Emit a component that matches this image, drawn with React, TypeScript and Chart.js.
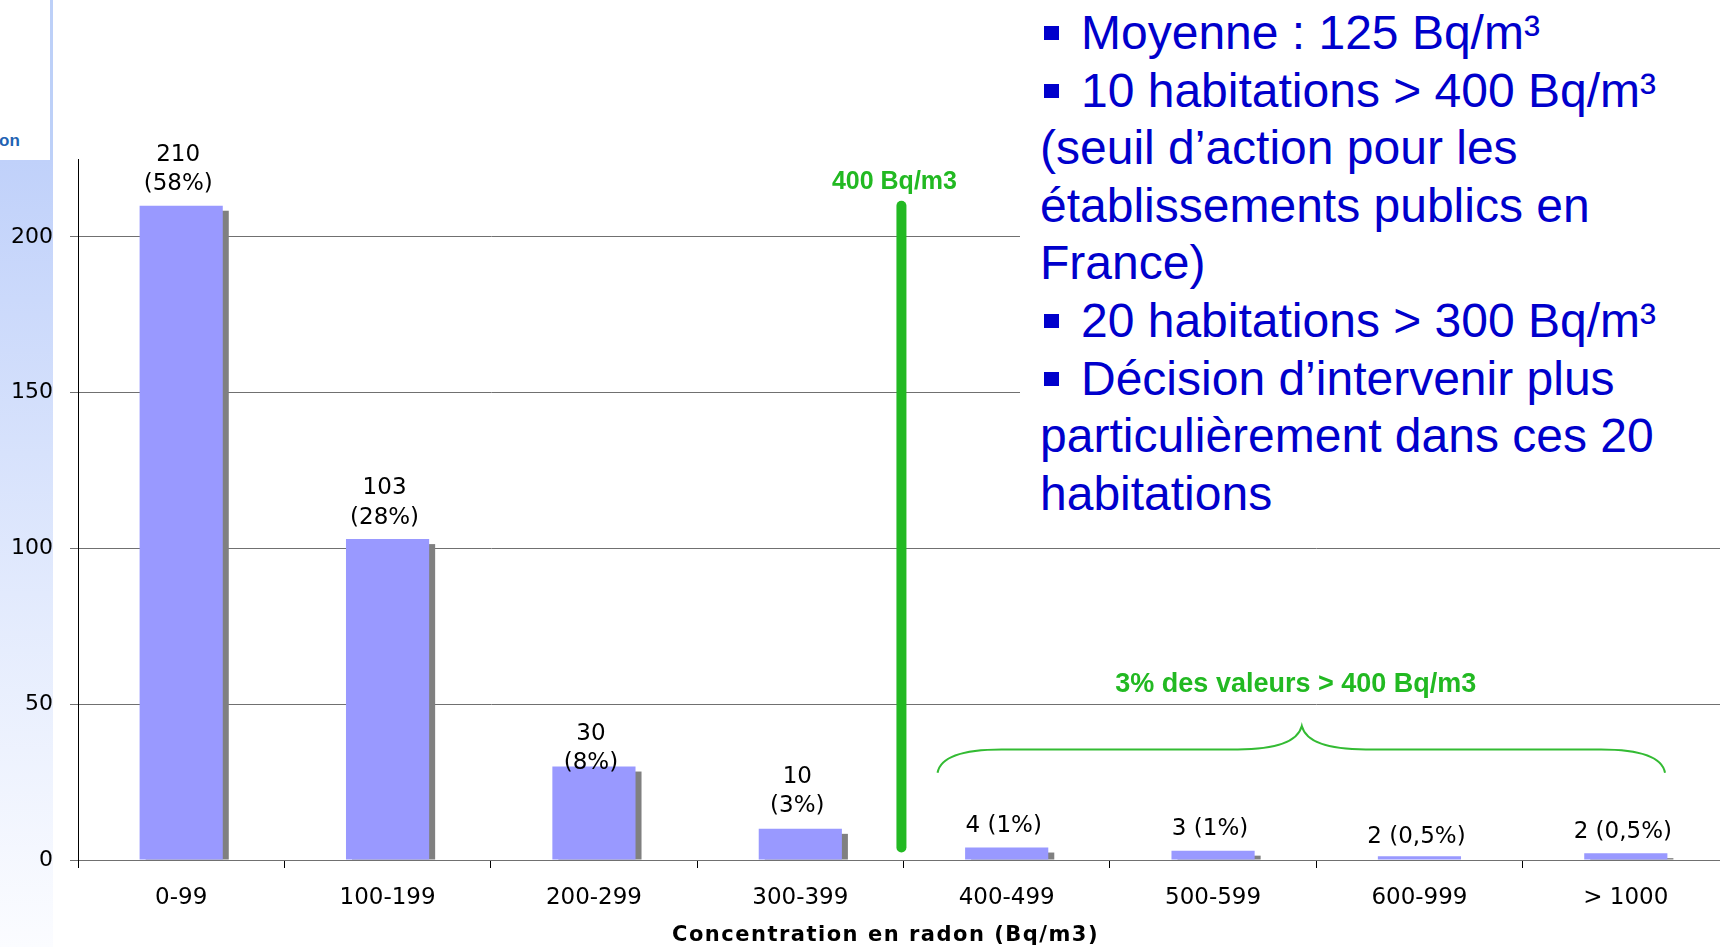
import React, { useEffect, useRef } from 'react';
import { Chart, registerables } from 'chart.js';

Chart.register(...registerables);

// ---------- data ----------
const categories = ['0-99', '100-199', '200-299', '300-399', '400-499', '500-599', '600-999', '> 1000'];
const counts = [210, 103, 30, 10, 4, 3, 1.2, 2.2];
const barLabels: string[][] = [
  ['210', '(58%)'],
  ['103', '(28%)'],
  ['30', '(8%)'],
  ['10', '(3%)'],
  ['4 (1%)'],
  ['3 (1%)'],
  ['2 (0,5%)'],
  ['2 (0,5%)'],
];
const yTicks = [0, 50, 100, 150, 200];
const Y_MAX = 225;

const thresholdLabel = '400 Bq/m3';
const thresholdX = 3.49; // in category units
const thresholdSpan = [4, 210]; // in count units

const braceLabel = '3% des valeurs > 400 Bq/m3';
const braceX = [3.665, 5.43, 7.19]; // left end, cusp, right end (category units)
const braceY = [28, 35.5, 43]; // ends, shoulders, cusp (count units)

const axisTitle = 'Concentration en radon (Bq/m3)';
const leftFragment = 'on';

const summaryLines: { bullet: boolean; text: string }[] = [
  { bullet: true, text: 'Moyenne : 125 Bq/m³' },
  { bullet: true, text: '10 habitations > 400 Bq/m³' },
  { bullet: false, text: '(seuil d’action pour les' },
  { bullet: false, text: 'établissements publics en' },
  { bullet: false, text: 'France)' },
  { bullet: true, text: '20 habitations > 300 Bq/m³' },
  { bullet: true, text: 'Décision d’intervenir plus' },
  { bullet: false, text: 'particulièrement dans ces 20' },
  { bullet: false, text: 'habitations' },
];

// ---------- styles ----------
const BAR_COLOR = '#9999FF';
const SHADOW_COLOR = '#808080';
const GRID_COLOR = '#707070';
const GREEN = '#22B922';
const TEXT_BLUE = '#0000CC';
const labelGaps = [24, 24, 6, 25, 24, 24, 22, 24];

const overlayPlugin = {
  id: 'overlay',
  beforeDatasetsDraw(chart: any) {
    const ctx = chart.ctx;
    const meta = chart.getDatasetMeta(0);
    ctx.save();
    ctx.fillStyle = SHADOW_COLOR;
    meta.data.forEach((bar: any) => {
      const w = bar.width;
      const top = bar.y + 5;
      const h = bar.base - top;
      if (h > 0) ctx.fillRect(bar.x - w / 2 + 6, top, w, h);
    });
    ctx.restore();
  },
  afterDatasetsDraw(chart: any) {
    const ctx = chart.ctx;
    const xs = chart.scales.x;
    const ys = chart.scales.y;
    const meta = chart.getDatasetMeta(0);
    ctx.save();
    // bar labels
    ctx.fillStyle = '#000';
    ctx.font = '23px "DejaVu Sans", Verdana, sans-serif';
    ctx.textAlign = 'center';
    ctx.textBaseline = 'alphabetic';
    meta.data.forEach((bar: any, i: number) => {
      const lines = barLabels[i];
      const lastCenter = bar.y - labelGaps[i];
      lines.forEach((t, j) => {
        const c = lastCenter - (lines.length - 1 - j) * 29.5;
        ctx.fillText(t, bar.x - 3, c + 8.5);
      });
    });

    // threshold line
    const tx = xs.getPixelForValue(thresholdX);
    ctx.strokeStyle = GREEN;
    ctx.lineWidth = 10;
    ctx.lineCap = 'round';
    ctx.beginPath();
    ctx.moveTo(tx, ys.getPixelForValue(thresholdSpan[1]));
    ctx.lineTo(tx, ys.getPixelForValue(thresholdSpan[0]));
    ctx.stroke();

    ctx.fillStyle = GREEN;
    ctx.font = 'bold 25px "Liberation Sans", Arial, sans-serif';
    ctx.fillText(thresholdLabel, tx - 7, ys.getPixelForValue(thresholdSpan[1]) - 17);

    // brace
    const L = xs.getPixelForValue(braceX[0]);
    const C = xs.getPixelForValue(braceX[1]);
    const R = xs.getPixelForValue(braceX[2]);
    const yEnd = ys.getPixelForValue(braceY[0]);
    const yH = ys.getPixelForValue(braceY[1]);
    const yC = ys.getPixelForValue(braceY[2]);
    const rx = 64;
    ctx.strokeStyle = '#33BB33';
    ctx.lineWidth = 2;
    ctx.lineCap = 'butt';
    ctx.beginPath();
    ctx.moveTo(L, yEnd);
    ctx.quadraticCurveTo(L + 4, yH, L + rx, yH);
    ctx.lineTo(C - rx, yH);
    ctx.quadraticCurveTo(C - 6, yH, C, yC);
    ctx.quadraticCurveTo(C + 6, yH, C + rx, yH);
    ctx.lineTo(R - rx, yH);
    ctx.quadraticCurveTo(R - 4, yH, R, yEnd);
    ctx.stroke();

    ctx.font = 'bold 27px "Liberation Sans", Arial, sans-serif';
    ctx.fillText(braceLabel, C - 6, ys.getPixelForValue(braceY[2]) - 34);

    // axis title
    ctx.fillStyle = '#000';
    ctx.font = 'bold 21px "DejaVu Sans", Verdana, sans-serif';
    (ctx as any).letterSpacing = '1.5px';
    const area = chart.chartArea;
    ctx.fillText(axisTitle, (area.left + area.right) / 2 - 18, area.bottom + 81);
    ctx.restore();
  },
};

export default function App() {
  const ref = useRef<HTMLCanvasElement>(null);

  useEffect(() => {
    document.body.style.margin = '0';
    document.body.style.overflow = 'hidden';
    const canvas = ref.current!;
    const chart = new Chart(canvas, {
      type: 'bar',
      data: {
        labels: categories,
        datasets: [
          {
            data: counts,
            backgroundColor: BAR_COLOR,
            borderWidth: 0,
            barPercentage: 0.403,
            categoryPercentage: 1,
          },
        ],
      },
      options: {
        responsive: false,
        animation: false,
        devicePixelRatio: 1,
        layout: { padding: { left: 0, right: 31, top: 159, bottom: 0 } },
        plugins: {
          legend: { display: false },
          tooltip: { enabled: false },
          title: { display: false },
        },
        scales: {
          x: {
            type: 'category',
            offset: true,
            grid: {
              offset: true,
              drawOnChartArea: false,
              drawTicks: true,
              tickLength: 8,
              color: '#000',
              lineWidth: 1,
            },
            border: { display: true, color: GRID_COLOR, width: 1 },
            ticks: {
              color: '#000',
              font: { family: '"DejaVu Sans", Verdana, sans-serif', size: 23 },
              padding: 16,
              maxRotation: 0,
              autoSkip: false,
            },
            afterFit: (s: any) => {
              s.height = 87;
            },
          },
          y: {
            min: 0,
            max: Y_MAX,
            afterBuildTicks: (s: any) => {
              s.ticks = yTicks.map((v) => ({ value: v }));
            },
            grid: { color: GRID_COLOR, lineWidth: 1, tickLength: 8, drawTicks: true },
            border: { display: true, color: '#000', width: 1 },
            ticks: {
              color: '#000',
              font: { family: '"DejaVu Sans", Verdana, sans-serif', size: 22 },
              padding: 17,
            },
            afterFit: (s: any) => {
              s.width = 78;
            },
          },
        },
      },
      plugins: [overlayPlugin],
    } as any);
    return () => chart.destroy();
  }, []);

  return (
    <div
      style={{
        position: 'fixed',
        left: 0,
        top: 0,
        width: 1720,
        height: 947,
        overflow: 'hidden',
        background: '#fff',
      }}
    >
      <div
        style={{
          position: 'absolute',
          left: 0,
          top: 160,
          width: 53,
          height: 787,
          background: 'linear-gradient(to bottom, #C0D1FA 0%, #E2EAFD 55%, #FBFCFF 100%)',
        }}
      />
      <div style={{ position: 'absolute', left: 50, top: 0, width: 3, height: 160, background: '#BDD0F8' }} />
      <div
        style={{
          position: 'absolute',
          left: -1,
          top: 131,
          font: 'bold 17px "Liberation Sans", Arial, sans-serif',
          color: '#1F63B3',
          lineHeight: '20px',
        }}
      >
        {leftFragment}
      </div>
      <canvas ref={ref} width={1760} height={947} style={{ position: 'absolute', left: 0, top: 0, width: 1760, height: 947 }} />
      <div
        style={{
          position: 'absolute',
          left: 1020,
          top: 0,
          width: 700,
          height: 530,
          background: '#fff',
          color: TEXT_BLUE,
          font: '48px "Liberation Sans", Arial, sans-serif',
          lineHeight: '57.6px',
          paddingTop: 4,
          paddingLeft: 20,
          boxSizing: 'border-box',
          whiteSpace: 'nowrap',
        }}
      >
        {summaryLines.map((l, i) => (
          <div key={i}>
            {l.bullet && (
              <span
                style={{
                  display: 'inline-block',
                  width: 15,
                  height: 14,
                  background: TEXT_BLUE,
                  marginLeft: 4,
                  marginRight: 22,
                  verticalAlign: '9px',
                }}
              />
            )}
            {l.text}
          </div>
        ))}
      </div>
    </div>
  );
}
